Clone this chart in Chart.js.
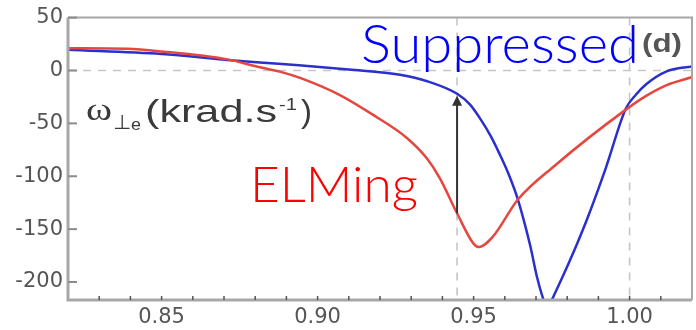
<!DOCTYPE html>
<html>
<head>
<meta charset="utf-8">
<script src="https://cdn.jsdelivr.net/npm/chart.js@4.4.1/dist/chart.umd.min.js"></script>
<style>
  html, body { margin: 0; padding: 0; background: #fff; }
  canvas { display: block; }
</style>
</head>
<body>
<canvas id="c" width="696" height="330"></canvas>
<script>
// Normalised radius (x) and perpendicular electron flow omega (krad/s)
const elmingR      = [0.820, 0.839, 0.850, 0.871, 0.8815, 0.889, 0.8944, 0.907, 0.9178, 0.9287, 0.935, 0.9392, 0.9447, 0.9498, 0.9517, 0.9562, 0.9642, 0.976, 0.9988, 1.0053, 1.0117, 1.0203];
const elmingOmega  = [21, 20.5, 18, 10.5, 3, -2, -7, -23, -42, -64, -83, -102, -135, -163, -167, -157, -122, -90, -37, -24, -14, -6];

const suppressedR     = [0.820, 0.850, 0.871, 0.8815, 0.894, 0.910, 0.9264, 0.936, 0.9447, 0.9488, 0.952, 0.9555, 0.9585, 0.9615, 0.9642, 0.9681, 0.9703, 0.9722, 0.9737, 0.9754, 0.979, 0.983, 0.9867, 0.9924, 0.9988, 1.002, 1.0053, 1.0117, 1.0203];
const suppressedOmega = [19.5, 15.5, 10, 7.5, 5, 1, -4, -11, -22, -32, -45, -62, -80, -100, -122, -165, -195, -215, -226, -215, -192, -165, -138, -92, -36, -23, -13, -1, 4];

// Axis ticks
const xTicks      = [0.85, 0.90, 0.95, 1.00];
const xTickLabels = ['0.85', '0.90', '0.95', '1.00'];
const xMinorTicks = [0.83, 0.84, 0.86, 0.87, 0.88, 0.89, 0.91, 0.92, 0.93, 0.94, 0.96, 0.97, 0.98, 0.99, 1.01];
const yTicks      = [-200, -150, -100, -50, 0, 50];
const yTickLabels = ['-200', '-150', '-100', '-50', '0', '50'];

// Reference lines and the flow-change arrow
const zeroLine    = 0;
const markerRadii = [0.9447, 1.00];
const arrowR      = 0.9447;
const arrowFrom   = -135;
const arrowTo     = -24;

function toPoints(xs, ys) { return xs.map((v, i) => ({ x: v, y: ys[i] })); }

function fitText(ctx, str, font, color, left, baseline, width) {
  ctx.save();
  ctx.font = font;
  ctx.fillStyle = color;
  ctx.textBaseline = 'alphabetic';
  ctx.textAlign = 'left';
  const w = ctx.measureText(str).width;
  ctx.translate(left, baseline);
  ctx.scale(width / w, 1);
  ctx.fillText(str, 0, 0);
  ctx.restore();
}

const overlay = {
  id: 'overlay',
  beforeDatasetsDraw(chart) {
    const { ctx, chartArea: a, scales: { x, y } } = chart;
    ctx.save();
    ctx.strokeStyle = '#c6c6c6';
    ctx.lineWidth = 1.6;
    ctx.setLineDash([8, 7]);
    const y0 = y.getPixelForValue(zeroLine);
    ctx.beginPath(); ctx.moveTo(a.left, y0); ctx.lineTo(a.right, y0); ctx.stroke();
    for (const r of markerRadii) {
      const px = x.getPixelForValue(r);
      ctx.beginPath(); ctx.moveTo(px, a.top); ctx.lineTo(px, a.bottom); ctx.stroke();
    }
    ctx.restore();
  },
  afterDatasetsDraw(chart) {
    const { ctx, chartArea: a, scales: { x, y } } = chart;
    ctx.save();
    // frame
    ctx.strokeStyle = '#a8a8a8';
    ctx.lineWidth = 2;
    ctx.beginPath(); ctx.moveTo(a.left, a.top); ctx.lineTo(a.right, a.top); ctx.lineTo(a.right, a.bottom); ctx.stroke();
    ctx.lineWidth = 3;
    ctx.beginPath(); ctx.moveTo(a.left, a.top); ctx.lineTo(a.left, a.bottom); ctx.lineTo(a.right, a.bottom); ctx.stroke();
    // inward tick marks
    ctx.strokeStyle = '#8c8c8c';
    ctx.lineWidth = 2;
    for (const v of yTicks) {
      const py = y.getPixelForValue(v);
      ctx.beginPath(); ctx.moveTo(a.left, py); ctx.lineTo(a.left + 9, py); ctx.stroke();
    }
    ctx.strokeStyle = '#555';
    ctx.lineWidth = 1.5;
    for (const v of xTicks.concat(xMinorTicks)) {
      const px = x.getPixelForValue(v);
      ctx.beginPath(); ctx.moveTo(px, a.bottom); ctx.lineTo(px, a.bottom - 4); ctx.stroke();
    }
    // arrow
    const ax = x.getPixelForValue(arrowR);
    const ay1 = y.getPixelForValue(arrowFrom);
    const ay2 = y.getPixelForValue(arrowTo);
    ctx.strokeStyle = '#333';
    ctx.fillStyle = '#333';
    ctx.lineWidth = 2;
    ctx.beginPath(); ctx.moveTo(ax, ay1); ctx.lineTo(ax, ay2 + 8); ctx.stroke();
    ctx.beginPath(); ctx.moveTo(ax, ay2); ctx.lineTo(ax - 5, ay2 + 10); ctx.lineTo(ax + 5, ay2 + 10); ctx.closePath(); ctx.fill();
    ctx.restore();

    // labels
    fitText(ctx, 'Suppressed', '300 53px Lato', '#0000ff', 361, 63, 278);
    fitText(ctx, 'ELMing', '300 49px Lato', '#ff0000', 250, 202, 168);
    fitText(ctx, '(d)', 'bold 26px "Liberation Sans"', '#555', 642, 52, 40);
    const lc = '#3a3a3a';
    fitText(ctx, 'ω', '31px "Liberation Serif"', lc, 86, 120, 26);
    fitText(ctx, '⊥', '20px "DejaVu Sans"', lc, 113, 129, 18);
    fitText(ctx, 'e', '17px "Liberation Sans"', lc, 131, 130, 10);
    fitText(ctx, '(krad.s', '32px "Liberation Sans"', lc, 145, 122, 132);
    fitText(ctx, '-1', '17px "Liberation Sans"', lc, 279, 110, 18);
    fitText(ctx, ')', '32px "Liberation Sans"', lc, 301, 122, 11);
  }
};

Chart.defaults.font.family = '"DejaVu Sans", sans-serif';

new Chart(document.getElementById('c'), {
  type: 'scatter',
  data: {
    datasets: [
      {
        label: 'ELMing',
        data: toPoints(elmingR, elmingOmega),
        showLine: true,
        borderColor: '#e5473f',
        borderWidth: 2.5,
        pointRadius: 0,
        cubicInterpolationMode: 'monotone'
      },
      {
        label: 'Suppressed',
        data: toPoints(suppressedR, suppressedOmega),
        showLine: true,
        borderColor: '#2b30cc',
        borderWidth: 2.5,
        pointRadius: 0,
        cubicInterpolationMode: 'monotone'
      }
    ]
  },
  options: {
    responsive: false,
    animation: false,
    layout: { padding: { top: 15, right: 4, left: 0, bottom: 0 } },
    plugins: { legend: { display: false }, tooltip: { enabled: false } },
    scales: {
      x: {
        type: 'linear',
        min: 0.82,
        max: 1.02,
        afterFit: s => { s.height = 30; },
        afterBuildTicks: s => { s.ticks = xTicks.map(v => ({ value: v })); },
        grid: { display: false, drawTicks: false },
        border: { display: false },
        ticks: {
          autoSkip: false,
          maxRotation: 0,
          padding: 5,
          color: '#555',
          font: { size: 21 },
          callback: (v, i) => xTickLabels[i]
        }
      },
      y: {
        type: 'linear',
        min: -217,
        max: 50,
        afterFit: s => { s.width = 68; },
        afterBuildTicks: s => { s.ticks = yTicks.map(v => ({ value: v })); },
        grid: { display: false, drawTicks: false },
        border: { display: false },
        ticks: {
          autoSkip: false,
          padding: 5,
          color: '#555',
          font: { size: 21 },
          callback: (v, i) => yTickLabels[i]
        }
      }
    }
  },
  plugins: [overlay]
});
</script>
</body>
</html>
